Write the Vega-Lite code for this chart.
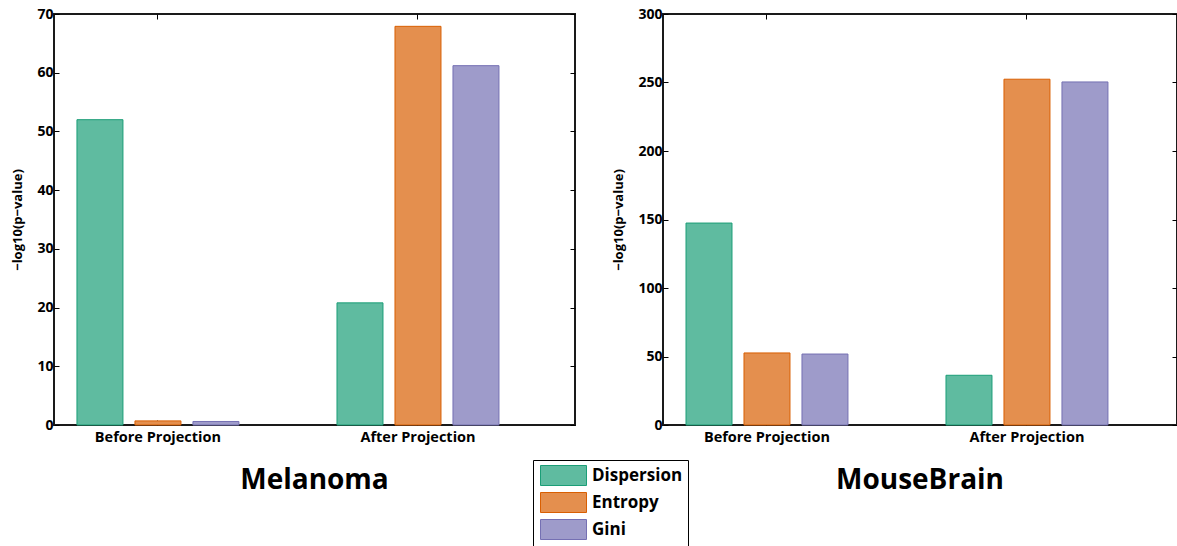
{
  "$schema": "https://vega.github.io/schema/vega-lite/v6.json",
  "autosize": {"type": "pad"},
  "padding": {"left": 10, "top": 6, "right": 0, "bottom": 0},
  "background": "white",
  "config": {
    "view": {"stroke": "#1a1a1a", "strokeWidth": 2},
    "font": "Open Sans",
    "axis": {
      "labelFont": "Open Sans", "labelFontWeight": "bold", "labelColor": "black",
      "titleFont": "Open Sans", "titleFontWeight": "bold", "titleColor": "black",
      "domain": false, "grid": false, "tickColor": "black", "tickSize": -5, "tickWidth": 1
    },
    "axisY": {"labelFontSize": 14, "labelPadding": 6, "titleFontSize": 13, "titlePadding": 12},
    "axisX": {"labelFontSize": 14.5, "labelPadding": 10, "labelAngle": 0},
    "title": {"font": "Open Sans", "fontWeight": "bold", "fontSize": 28, "color": "black", "orient": "bottom", "offset": 23, "anchor": "middle"},
    "legend": {
      "orient": "none", "legendX": 479, "legendY": 446, "direction": "vertical",
      "strokeColor": "black", "fillColor": "white", "padding": 5,
      "labelFont": "Open Sans", "labelFontWeight": "bold", "labelFontSize": 17, "labelColor": "black",
      "symbolType": "M-2.3,-1H2.3V1H-2.3Z", "symbolSize": 400, "symbolStrokeWidth": 1,
      "rowPadding": 2, "symbolOffset": 15, "labelOffset": 18
    }
  },
  "datasets": {
    "mel": [
      {"stage": "Before Projection", "method": "Dispersion", "value": 52.0},
      {"stage": "Before Projection", "method": "Entropy", "value": 0.7},
      {"stage": "Before Projection", "method": "Gini", "value": 0.6},
      {"stage": "After Projection", "method": "Dispersion", "value": 20.8},
      {"stage": "After Projection", "method": "Entropy", "value": 67.9},
      {"stage": "After Projection", "method": "Gini", "value": 61.2}
    ],
    "mb": [
      {"stage": "Before Projection", "method": "Dispersion", "value": 147.4},
      {"stage": "Before Projection", "method": "Entropy", "value": 52.6},
      {"stage": "Before Projection", "method": "Gini", "value": 51.8},
      {"stage": "After Projection", "method": "Dispersion", "value": 36.3},
      {"stage": "After Projection", "method": "Entropy", "value": 252.4},
      {"stage": "After Projection", "method": "Gini", "value": 250.4}
    ]
  },
  "spacing": 34,
  "hconcat": [
    {
      "title": "Melanoma",
      "width": 521, "height": 411,
      "data": {"name": "mel"},
      "layer": [
        {
          "mark": {"type": "bar", "strokeWidth": 1},
          "encoding": {
            "x": {"field": "stage", "type": "nominal", "sort": ["Before Projection", "After Projection"],
                  "scale": {"paddingInner": 0.331, "paddingOuter": 0.1673, "align": 0.195},
                  "axis": {"title": null}},
            "xOffset": {"field": "method", "type": "nominal", "sort": ["Dispersion", "Entropy", "Gini"],
                        "scale": {"paddingInner": 0.207, "paddingOuter": 0.1035}},
            "y": {"field": "value", "type": "quantitative",
                  "scale": {"domain": [0, 70], "nice": false},
                  "axis": {"title": "−log10(p−value)", "values": [0, 10, 20, 30, 40, 50, 60, 70]}},
            "fill": {"field": "method", "type": "nominal", "sort": ["Dispersion", "Entropy", "Gini"],
                     "scale": {"range": ["#5FBBA0", "#E48F4E", "#9E9BCA"]},
                     "legend": {"title": null, "encode": {"symbols": {"update": {"stroke": {"scale": "stroke", "field": "value"}, "strokeWidth": {"value": 1}}}}}},
            "stroke": {"field": "method", "type": "nominal", "sort": ["Dispersion", "Entropy", "Gini"],
                       "scale": {"range": ["#1b9e77", "#d95f02", "#7570b3"]}, "legend": null}
          }
        },
        {
          "mark": {"type": "bar", "opacity": 0},
          "encoding": {
            "x": {"field": "stage", "type": "nominal", "sort": ["Before Projection", "After Projection"],
                  "axis": {"orient": "top", "labels": false, "title": null}},
            "xOffset": {"field": "method", "type": "nominal", "sort": ["Dispersion", "Entropy", "Gini"]},
            "y": {"field": "value", "type": "quantitative",
                  "axis": {"orient": "right", "labels": false, "title": null, "values": [0, 10, 20, 30, 40, 50, 60, 70]}}
          }
        }
      ],
      "resolve": {"axis": {"x": "independent", "y": "independent"}}
    },
    {
      "title": "MouseBrain",
      "width": 514, "height": 411,
      "data": {"name": "mb"},
      "layer": [
        {
          "mark": {"type": "bar", "strokeWidth": 1},
          "encoding": {
            "x": {"field": "stage", "type": "nominal", "sort": ["Before Projection", "After Projection"],
                  "scale": {"paddingInner": 0.331, "paddingOuter": 0.154, "align": 0.2123},
                  "axis": {"title": null}},
            "xOffset": {"field": "method", "type": "nominal", "sort": ["Dispersion", "Entropy", "Gini"],
                        "scale": {"paddingInner": 0.207, "paddingOuter": 0.1035}},
            "y": {"field": "value", "type": "quantitative",
                  "scale": {"domain": [0, 300], "nice": false},
                  "axis": {"title": "−log10(p−value)", "values": [0, 50, 100, 150, 200, 250, 300]}},
            "fill": {"field": "method", "type": "nominal", "sort": ["Dispersion", "Entropy", "Gini"],
                     "scale": {"range": ["#5FBBA0", "#E48F4E", "#9E9BCA"]},
                     "legend": {"title": null, "encode": {"symbols": {"update": {"stroke": {"scale": "stroke", "field": "value"}, "strokeWidth": {"value": 1}}}}}},
            "stroke": {"field": "method", "type": "nominal", "sort": ["Dispersion", "Entropy", "Gini"],
                       "scale": {"range": ["#1b9e77", "#d95f02", "#7570b3"]}, "legend": null}
          }
        },
        {
          "mark": {"type": "bar", "opacity": 0},
          "encoding": {
            "x": {"field": "stage", "type": "nominal", "sort": ["Before Projection", "After Projection"],
                  "axis": {"orient": "top", "labels": false, "title": null}},
            "xOffset": {"field": "method", "type": "nominal", "sort": ["Dispersion", "Entropy", "Gini"]},
            "y": {"field": "value", "type": "quantitative",
                  "axis": {"orient": "right", "labels": false, "title": null, "values": [0, 50, 100, 150, 200, 250, 300]}}
          }
        }
      ],
      "resolve": {"axis": {"x": "independent", "y": "independent"}}
    }
  ]
}
